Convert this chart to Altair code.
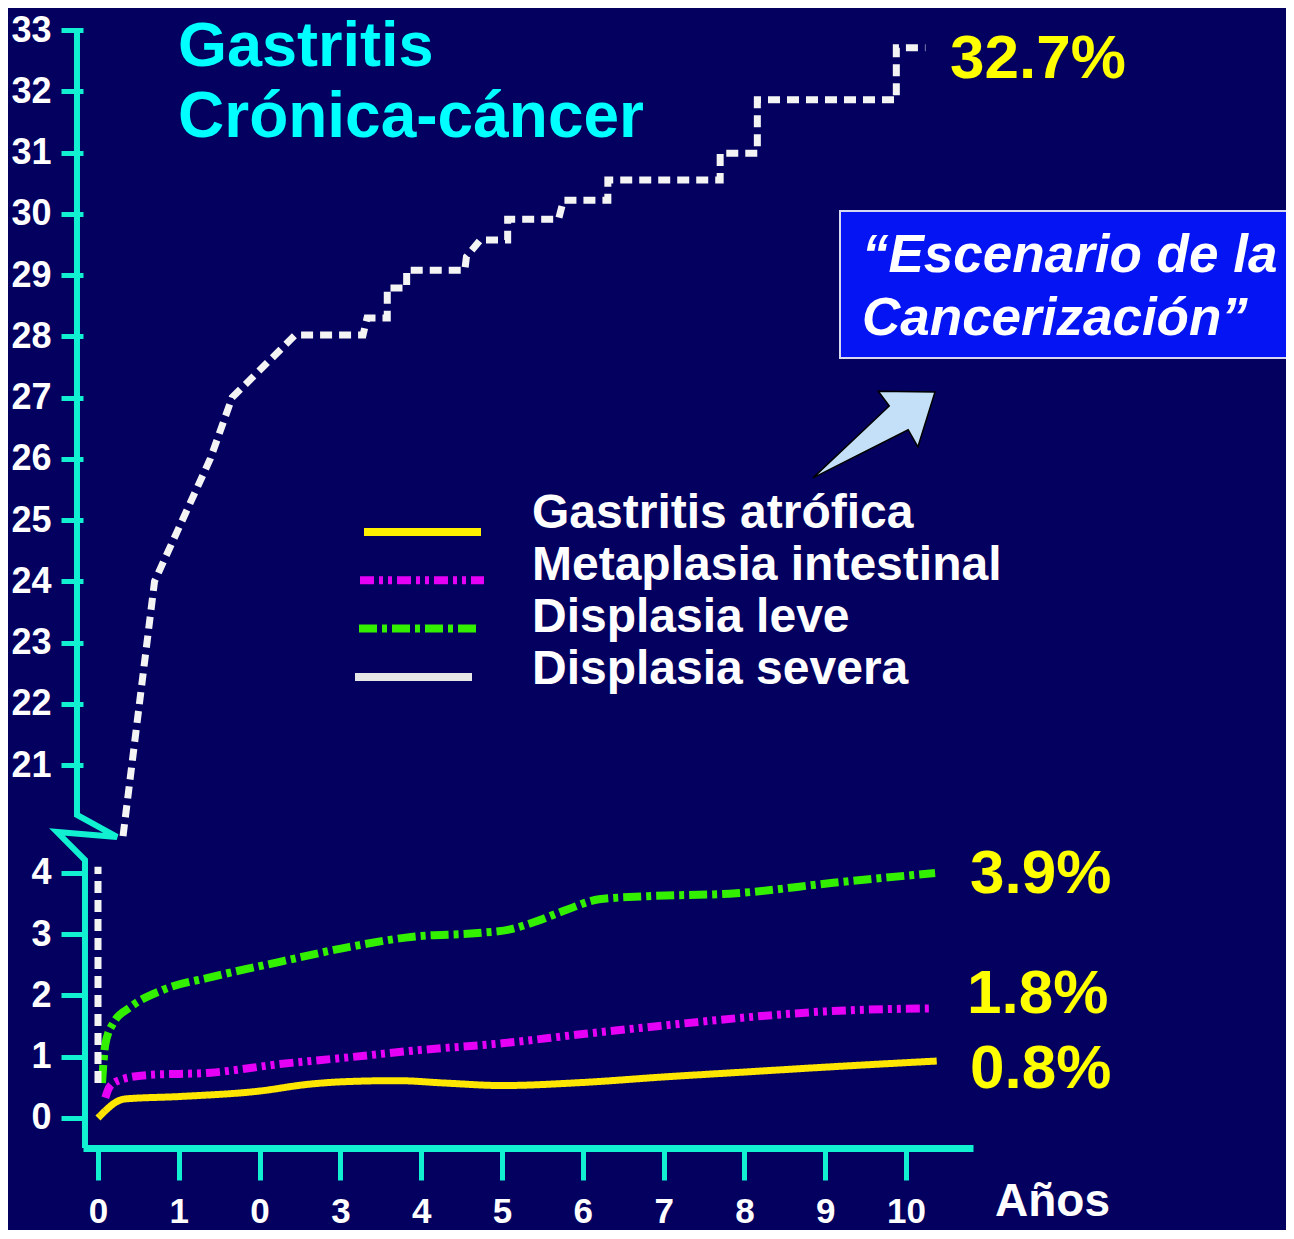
import altair as alt
import pandas as pd

# ---------------- data ----------------
series_names = ["Gastritis atrófica", "Metaplasia intestinal", "Displasia leve", "Displasia severa"]

x_ticks = list(range(11))
x_tick_labels = ["0", "1", "0", "3", "4", "5", "6", "7", "8", "9", "10"]
y_ticks_low = [0, 1, 2, 3, 4]
y_ticks_high = list(range(21, 34))

ga_x = [0.0, 0.33, 1.0, 2.0, 2.6, 3.0, 3.7, 4.3, 5.0, 6.0, 7.0, 8.0, 9.0, 10.38]
ga_y = [0.0, 0.31, 0.35, 0.44, 0.55, 0.59, 0.61, 0.57, 0.53, 0.58, 0.67, 0.75, 0.83, 0.93]

mi_x = [0.09, 0.14, 0.27, 0.6, 1.4, 2.25, 3.1, 3.9, 5.0, 6.0, 7.0, 8.0, 9.0, 10.3]
mi_y = [0.33, 0.5, 0.62, 0.7, 0.74, 0.88, 0.99, 1.1, 1.22, 1.37, 1.51, 1.64, 1.74, 1.79]

dl_x = [0.05, 0.09, 0.19, 0.4, 0.8, 1.4, 2.25, 3.1, 3.9, 4.7, 5.1, 5.4, 5.8, 6.2, 6.8, 7.9, 9.1, 10.36]
dl_y = [0.57, 1.2, 1.55, 1.81, 2.09, 2.3, 2.55, 2.79, 2.96, 3.02, 3.08, 3.2, 3.4, 3.57, 3.62, 3.67, 3.84, 4.0]

ds_low_x = [0.0, 0.0]
ds_low_y = [0.57, 4.1]
ds_high_x = [0.31, 0.70, 1.39, 1.66, 2.44, 3.28, 3.33, 3.58, 3.58, 3.82, 3.82, 4.54, 4.56, 4.73,
             5.07, 5.07, 5.70, 5.76, 6.31, 6.31, 7.70, 7.70, 8.16, 8.16, 9.88, 9.88, 10.24]
ds_high_y = [19.84, 24.0, 26.0, 27.0, 28.02, 28.02, 28.30, 28.30, 28.79, 28.79, 29.08, 29.08, 29.3, 29.57,
             29.57, 29.91, 29.91, 30.22, 30.22, 30.55, 30.55, 30.99, 30.99, 31.86, 31.86, 32.71, 32.71]

end_labels = ["0.8%", "1.8%", "3.9%", "32.7%"]
title_lines = ["Gastritis", "Crónica-cáncer"]
box_lines = ["\u201cEscenario de la", "Cancerización\u201d"]

# ---------------- style ----------------
BG = "#03005F"
TEAL = "#12F0D2"
FONT = "Liberation Sans"
OFFSET = 15.237  # broken axis: upper values are shifted down by this amount

colors = {"Gastritis atrófica": "#FFE600", "Metaplasia intestinal": "#E600F5",
          "Displasia leve": "#33F000", "Displasia severa": "#F4F4F4"}
dashes = {"Gastritis atrófica": [1, 0], "Metaplasia intestinal": [14, 5, 4, 5, 4, 5],
          "Displasia leve": [18, 5, 5, 5], "Displasia severa": [12, 7]}
widths = {"Gastritis atrófica": 7, "Metaplasia intestinal": 8, "Displasia leve": 8, "Displasia severa": 7}
legend_colors = {"Gastritis atrófica": "#FFF000", "Metaplasia intestinal": "#E600F5",
                 "Displasia leve": "#33F000", "Displasia severa": "#E6E6E6"}

XMIN, XMAX = -0.1856, 10.829
YMIN, YMAX = -0.49, 17.927

y_values = y_ticks_low + [v - OFFSET for v in y_ticks_high]
label_js = "[" + ",".join("'%s'" % s for s in x_tick_labels) + "]"

X = lambda: alt.X("x:Q", title=None,
                  scale=alt.Scale(domain=[XMIN, XMAX], nice=False, zero=False),
                  axis=alt.Axis(values=x_ticks, labelExpr=label_js + "[datum.value]",
                                domainColor=TEAL, domainWidth=7, tickColor=TEAL, tickWidth=5,
                                tickSize=32, labelColor="white", labelFontSize=35, labelFont=FONT,
                                labelFontWeight="bold", labelPadding=42, labelBaseline="alphabetic",
                                grid=False, labelFlush=False, labelOverlap=False))
Y = lambda: alt.Y("disp:Q", title=None,
                  scale=alt.Scale(domain=[YMIN, YMAX], nice=False, zero=False),
                  axis=alt.Axis(values=y_values,
                                labelExpr="datum.value < 5 ? format(datum.value, 'd') : format(datum.value + %s, '.0f')" % OFFSET,
                                domain=False, tickColor=TEAL, tickWidth=5, tickSize=22,
                                labelColor="white", labelFontSize=36, labelFont=FONT,
                                labelFontWeight="bold", labelPadding=10, grid=False,
                                labelFlush=False, labelOverlap=False))

layers = []

# axis line with break (zig-zag), in data units
axis_x = [-0.26, -0.26, 0.235, -0.507, -0.161, -0.161]
axis_disp = [y_ticks_high[-1] - OFFSET, 4.947, 4.588, 4.669, 4.212, YMIN]
axis_df = pd.DataFrame({"x": axis_x, "disp": axis_disp, "o": range(len(axis_x))})
layers.append(alt.Chart(axis_df).mark_line(color=TEAL, strokeWidth=6, clip=False,
                                           strokeJoin="miter").encode(x=X(), y=Y(), order="o:Q"))

# series
def series_df(name, xs, ys, seg=0):
    return pd.DataFrame({"series": name, "seg": seg, "x": xs, "value": ys, "o": range(len(xs))})

series_data = {
    "Gastritis atrófica": [series_df("Gastritis atrófica", ga_x, ga_y)],
    "Metaplasia intestinal": [series_df("Metaplasia intestinal", mi_x, mi_y)],
    "Displasia leve": [series_df("Displasia leve", dl_x, dl_y)],
    "Displasia severa": [series_df("Displasia severa", ds_low_x, ds_low_y, 0),
                         series_df("Displasia severa", ds_high_x, ds_high_y, 1)],
}
for name in series_names:
    df = pd.concat(series_data[name], ignore_index=True)
    interp = "linear" if name == "Displasia severa" else "monotone"
    layers.append(
        alt.Chart(df).transform_calculate(
            disp="datum.value > 10 ? datum.value - %s : datum.value" % OFFSET
        ).mark_line(color=colors[name], strokeWidth=widths[name], strokeDash=dashes[name],
                    interpolate=interp, clip=False, strokeCap="butt").encode(
            x=X(), y=Y(), detail="seg:N", order="o:Q")
    )

# ---------------- annotations (pixel positions within plot area) ----------------
def text_layer(txt, x, y, size, color, style="normal", weight="bold", font=FONT):
    return alt.Chart(pd.DataFrame({"t": [txt]})).mark_text(
        align="left", baseline="alphabetic", font=font, fontSize=size, fontWeight=weight,
        fontStyle=style, color=color).encode(x=alt.value(x), y=alt.value(y), text="t:N")

# title
layers.append(text_layer(title_lines[0], 95, 46, 63, "#00FFFF"))
layers.append(text_layer(title_lines[1], 95, 117, 64, "#00FFFF"))

# end labels
end_pos = [(887, 1068), (884, 993), (887, 873), (867, 58)]
for lab, (px, py) in zip(end_labels, end_pos):
    layers.append(text_layer(lab, px, py, 62, "#FFFF00"))

# box
layers.append(alt.Chart(pd.DataFrame({"a": [0]})).mark_rect(
    fill="#0414F2", stroke="#D8D8F0", strokeWidth=2).encode(
    x=alt.value(757), x2=alt.value(1230), y=alt.value(191), y2=alt.value(338)))
layers.append(text_layer(box_lines[0], 779, 252, 53, "white", style="italic"))
layers.append(text_layer(box_lines[1], 779, 315, 53, "white", style="italic"))

# arrow
ARROW = "M-1,0.72L0.56,-0.07L0.72,0.21L1,-0.69L0.07,-0.70L0.25,-0.46Z"
layers.append(alt.Chart(pd.DataFrame({"a": [0]})).mark_point(
    shape=ARROW, size=14884, filled=True, fill="#C4E0F8", stroke="black", strokeWidth=1.5,
    opacity=1).encode(x=alt.value(791), y=alt.value(414)))

# legend
leg_x = [(281, 398), (277, 401), (276, 397), (272, 389)]
for i, name in enumerate(series_names):
    ly = 512 + 48.3 * i
    layers.append(alt.Chart(pd.DataFrame({"a": [0]})).mark_rule(
        color=legend_colors[name], strokeWidth=8,
        strokeDash=(dashes[name] if name != "Displasia severa" else [1, 0])).encode(
        x=alt.value(leg_x[i][0]), x2=alt.value(leg_x[i][1]), y=alt.value(ly)))
    layers.append(text_layer(name, 449, 508 + 52 * i, 48, "white"))

# x axis title
layers.append(text_layer("Años", 912, 1196, 46, "white"))

chart = alt.layer(*layers).properties(
    width=890, height=1128, background=BG,
    padding={"left": 75, "top": 12, "right": 313, "bottom": 82},
    autosize=alt.AutoSizeParams(type="none"),
).configure_view(stroke=None)

chart.save("out.html", embed_options={"renderer": "svg", "actions": False})
